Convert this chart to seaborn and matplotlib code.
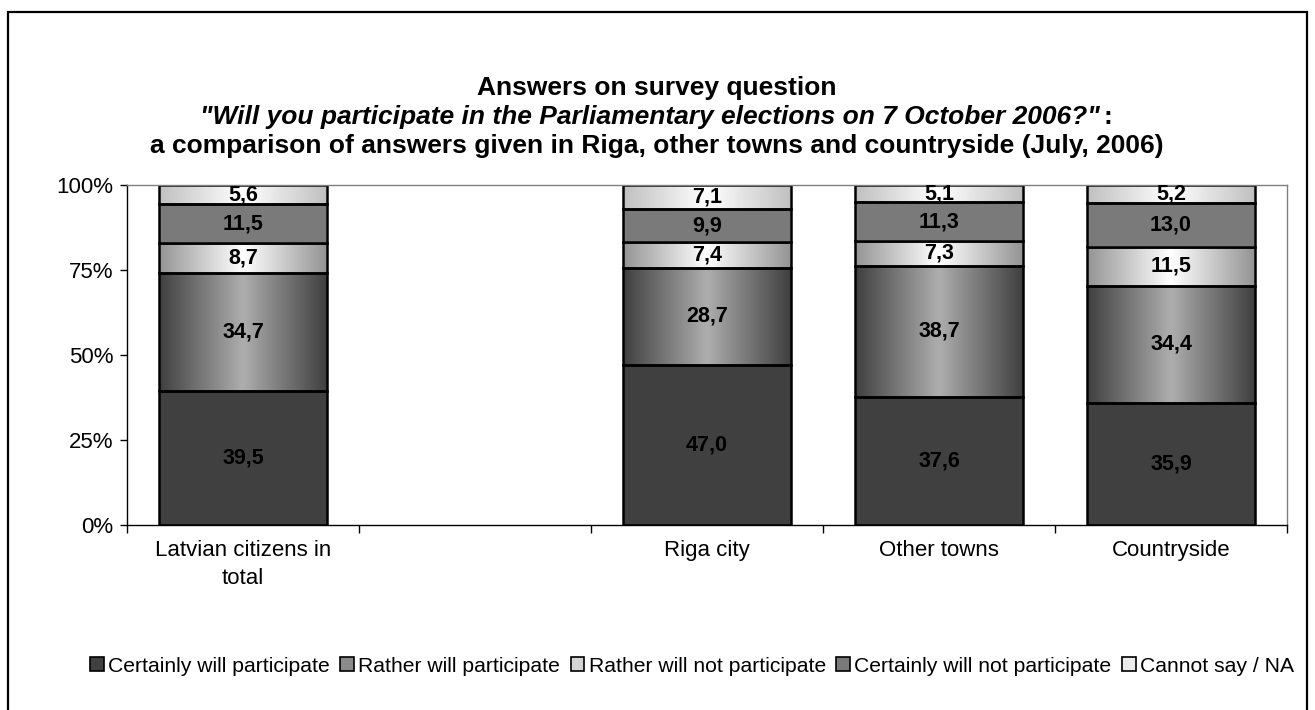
import numpy as np
import pandas as pd
import matplotlib
matplotlib.use("Agg")
import matplotlib.pyplot as plt
from matplotlib.patches import Patch, Rectangle
import seaborn as sns

# categories (blank slot kept as in the original chart)
ORDER = ["Latvian citizens in\ntotal", " ", "Riga city", "Other towns", "Countryside"]
CATEGORIES = ["Latvian citizens in\ntotal", "Riga city", "Other towns", "Countryside"]

SERIES = ["Certainly will participate", "Rather will participate",
          "Rather will not participate", "Certainly will not participate",
          "Cannot say / NA"]

certainly_will = [39.5, 47.0, 37.6, 35.9]
rather_will = [34.7, 28.7, 38.7, 34.4]
rather_not = [8.7, 7.4, 7.3, 11.5]
certainly_not = [11.5, 9.9, 11.3, 13.0]
cannot_say = [5.6, 7.1, 5.1, 5.2]

VALUES = [certainly_will, rather_will, rather_not, certainly_not, cannot_say]

# (edge grey, centre grey) for gradients; None = flat colour
FILLS = [None, (0.25, 0.68), (0.58, 1.0), None, (0.75, 1.0)]
FLAT = ["#404040", None, None, "#7a7a7a", None]
LEGEND_COLORS = ["#404040", "#8a8a8a", "#d4d4d4", "#7a7a7a", "#ececec"]

sns.set_style("white")
plt.rcParams["font.family"] = ["Liberation Sans", "DejaVu Sans"]
plt.rcParams["text.color"] = "black"
plt.rcParams["xtick.color"] = "black"
plt.rcParams["ytick.color"] = "black"

fig = plt.figure(figsize=(13.15, 7.1), dpi=100)
ax = fig.add_axes([127 / 1315, 1 - 525 / 710, (1287 - 127) / 1315, 340 / 710])

bottoms = np.zeros(len(CATEGORIES))
for i, (name, vals) in enumerate(zip(SERIES, VALUES)):
    sns.barplot(x=CATEGORIES, y=vals, order=ORDER, bottom=bottoms.copy(),
                color=LEGEND_COLORS[i], width=0.72, edgecolor="black",
                linewidth=1.8, saturation=1, ax=ax)
    bars = ax.containers[-1]
    for patch, v in zip(bars.patches, vals):
        x0, y0 = patch.get_x(), patch.get_y()
        w, h = patch.get_width(), patch.get_height()
        if FILLS[i] is not None:
            lo, hi = FILLS[i]
            t = np.linspace(0, 1, 256)
            prof = lo + (hi - lo) * (1 - np.abs(2 * t - 1))
            img = ax.imshow(prof[None, :], cmap="gray", vmin=0, vmax=1,
                            extent=(x0, x0 + w, y0, y0 + h), aspect="auto",
                            zorder=0.9, interpolation="bilinear")
            img.set_clip_path(patch)
            patch.set_facecolor("none")
        else:
            patch.set_facecolor(FLAT[i])
        ax.text(x0 + w / 2, y0 + h / 2, f"{v:.1f}".replace(".", ","),
                ha="center", va="center", fontsize=15.5, fontweight="bold",
                color="black", zorder=5)
    bottoms += np.array(vals)

ax.set_xlim(-0.5, 4.5)
ax.set_ylim(0, 100)
ax.set_yticks([0, 25, 50, 75, 100])
ax.set_yticklabels(["0%", "25%", "50%", "75%", "100%"])
ax.set_xlabel("")
ax.set_ylabel("")
ax.set_xticks(range(5))
ax.set_xticklabels(ORDER, linespacing=1.45)
ax.set_xticks(np.arange(-0.5, 5, 1), minor=True)
ax.tick_params(axis="x", which="major", length=0, pad=11, labelsize=16)
ax.tick_params(axis="x", which="minor", length=6, width=1, direction="out",
               color="black", bottom=True)
ax.tick_params(axis="y", length=5, width=1, direction="out", left=True,
               labelsize=16, pad=5, color="black")
for side in ["left", "bottom"]:
    ax.spines[side].set_color("black")
    ax.spines[side].set_linewidth(1)
for side in ["top", "right"]:
    ax.spines[side].set_color("#808080")
    ax.spines[side].set_linewidth(1)

handles = [Patch(facecolor=c, edgecolor="black", linewidth=1.2) for c in LEGEND_COLORS]
fig.legend(handles, SERIES, loc="center", bbox_to_anchor=(692 / 1315, 1 - 666 / 710),
           ncol=5, frameon=False, fontsize=15.2, handlelength=0.65, handleheight=0.65,
           handletextpad=0.2, columnspacing=0.5)

# title
fig.text(657 / 1315, 1 - 88 / 710, "Answers on survey question", ha="center",
         va="center", fontsize=19, fontweight="bold")
t2 = fig.text(650 / 1315, 1 - 117 / 710,
              "\"Will you participate in the Parliamentary elections on 7 October 2006?\"",
              ha="center", va="center", fontsize=19, fontweight="bold", style="italic")
fig.canvas.draw()
bb = t2.get_window_extent()
fig.text((bb.x1 + 4) / 1315, 1 - 117 / 710, ":", ha="left", va="center",
         fontsize=19, fontweight="bold")
fig.text(657 / 1315, 1 - 146 / 710,
         "a comparison of answers given in Riga, other towns and countryside (July, 2006)",
         ha="center", va="center", fontsize=19, fontweight="bold")

# outer chart frame
fig.patches.append(Rectangle((7.5 / 1315, -0.05), 1299.5 / 1315, 1.05 - 12 / 710,
                             transform=fig.transFigure, fill=False,
                             edgecolor="black", linewidth=1.6))

fig.savefig("out.png", dpi=100)
